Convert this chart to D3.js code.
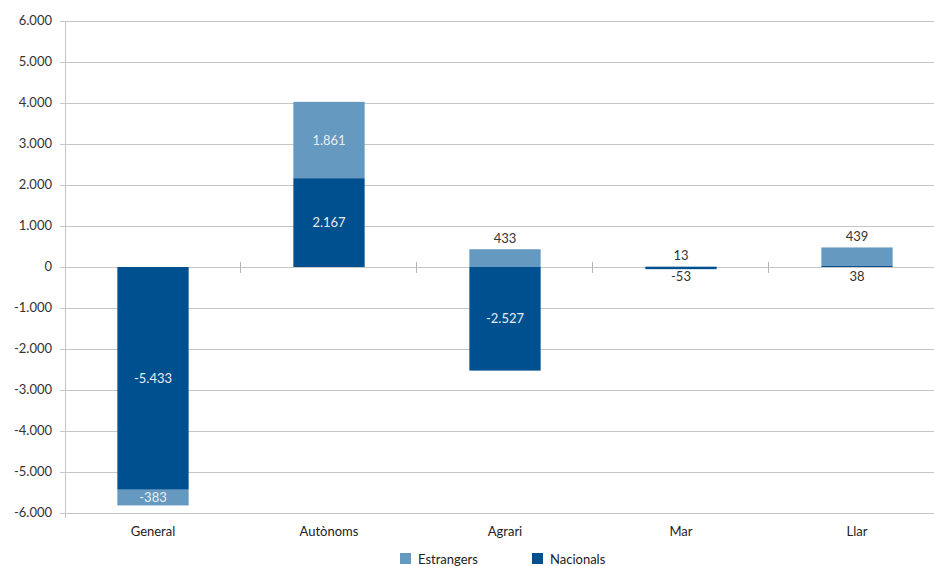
<!DOCTYPE html>
<html><head><meta charset="utf-8">
<script src="https://cdn.jsdelivr.net/npm/d3@7/dist/d3.min.js"></script>
<style>body{margin:0;background:#fff}svg{display:block}text{font-family:Lato,"Open Sans",sans-serif}</style>
</head><body><svg id="c" width="934" height="566"></svg>
<script>
const categories = ["General","Autònoms","Agrari","Mar","Llar"];
const nacionals = [-5433, 2167, -2527, -53, 38];
const estrangers = [-383, 1861, 433, 13, 439];
const yTicks = [-6000,-5000,-4000,-3000,-2000,-1000,0,1000,2000,3000,4000,5000,6000];
const seriesNames = ["Estrangers","Nacionals"];
// label placement per segment (in = inside, above/below = outside)
const nacPos = ["in","in","in","below","below"];
const estPos = ["in","in","above","above","above"];

const colors = {Nacionals:"#00508f", Estrangers:"#6699c0"};
const svg = d3.select("#c");
const M = {l:65, r:945, t:21, b:513};
const x = d3.scaleBand().domain(categories).range([M.l, M.r]).paddingInner(0).paddingOuter(0);
const y = d3.scaleLinear().domain([-6000,6000]).range([M.b, M.t]);
const fmt = v => d3.format(",")(v).replace(/,/g,".").replace(/\u2212/g,"-");

// gridlines
svg.append("g").selectAll("line").data(yTicks).join("line")
  .attr("x1", M.l-5).attr("x2", 934).attr("y1", d=>Math.round(y(d))+0.5).attr("y2", d=>Math.round(y(d))+0.5)
  .attr("stroke","#c6c6c6").attr("stroke-width",1);
// y axis line
svg.append("line").attr("x1",M.l+0.5).attr("x2",M.l+0.5).attr("y1",M.t).attr("y2",M.b+5)
  .attr("stroke","#c6c6c6");
// y tick labels
svg.append("g").selectAll("text").data(yTicks).join("text")
  .attr("x", 52).attr("y", d=>y(d)+4).attr("text-anchor","end")
  .attr("font-size",13).attr("fill","#333").text(d=>fmt(d));

// bars
const bw = x.bandwidth()*0.405;
const segs = [];
categories.forEach((c,i)=>{
  let pos=0, neg=0;
  [["Nacionals",nacionals[i],nacPos[i]],["Estrangers",estrangers[i],estPos[i]]].forEach(([s,v,p])=>{
    let y0,y1;
    if(v>=0){y0=pos; y1=pos+v; pos=y1;} else {y0=neg; y1=neg+v; neg=y1;}
    segs.push({c,s,v,y0,y1,p});
  });
});
svg.append("g").selectAll("rect").data(segs).join("rect")
  .attr("x", d=>x(d.c)+x.bandwidth()/2-bw/2).attr("width", bw)
  .attr("y", d=>Math.min(y(d.y0),y(d.y1))).attr("height", d=>Math.abs(y(d.y0)-y(d.y1)))
  .attr("fill", d=>colors[d.s]);

// category tick marks on zero line
const bounds = categories.slice(1).map(c=>x(c));
svg.append("g").selectAll("line").data(bounds).join("line")
  .attr("x1",d=>Math.round(d)-0.5).attr("x2",d=>Math.round(d)-0.5)
  .attr("y1",y(0)-5).attr("y2",y(0)+6).attr("stroke","#b8b8b8");

// labels
svg.append("g").selectAll("text").data(segs).join("text")
  .attr("x", d=>x(d.c)+x.bandwidth()/2)
  .attr("y", d=>{
    const top=Math.min(y(d.y0),y(d.y1)), bot=Math.max(y(d.y0),y(d.y1));
    if(d.p==="in") return (top+bot)/2+4.5;
    if(d.p==="above") return top-6;
    return y(0)+14;
  })
  .attr("text-anchor","middle").attr("font-size",13)
  .attr("fill", d=>d.p==="in"?"#e6edf5":"#333").text(d=>fmt(d.v));

// category labels
svg.append("g").selectAll("text").data(categories).join("text")
  .attr("x", d=>x(d)+x.bandwidth()/2).attr("y", 536).attr("text-anchor","middle")
  .attr("font-size",13).attr("fill","#222").text(d=>d);

// legend
const lx = [400, 532];
const lg = svg.append("g").selectAll("g").data(seriesNames).join("g")
  .attr("transform",(d,i)=>`translate(${lx[i]},553)`);
lg.append("rect").attr("width",11).attr("height",11).attr("fill",d=>colors[d]);
lg.append("text").attr("x",18).attr("y",10.5).attr("font-size",13).attr("fill","#222").text(d=>d);
</script></body></html>
